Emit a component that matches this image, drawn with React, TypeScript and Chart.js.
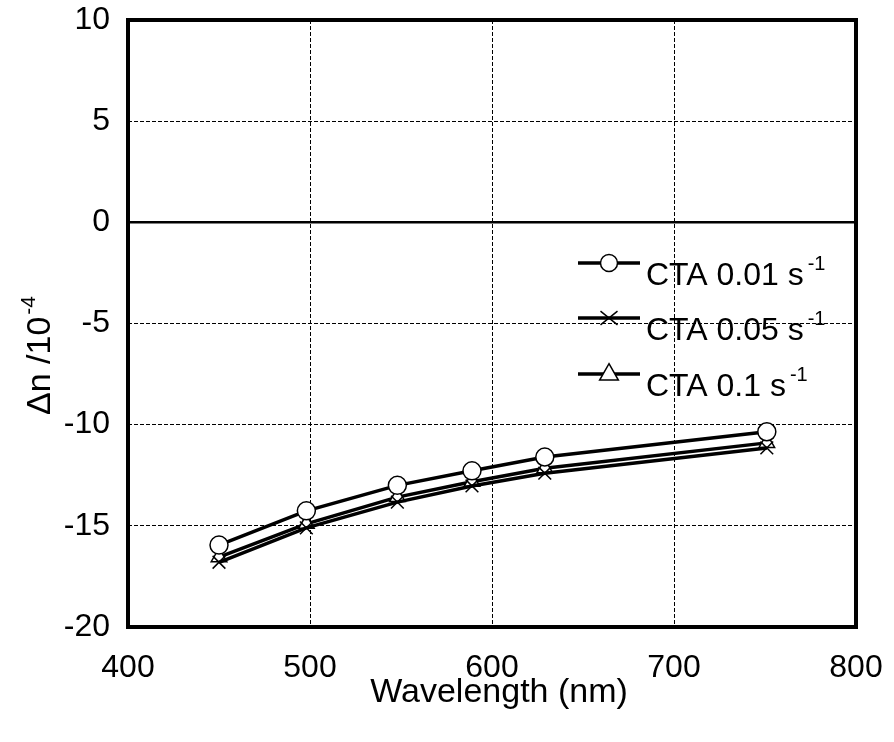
import React, { useEffect, useRef } from "react";
import { Chart, registerables } from "chart.js";

Chart.register(...registerables);

const wavelengths = [450, 498, 548, 589, 629, 751];
const cta001 = [-15.95, -14.26, -13.0, -12.28, -11.6, -10.35];
const cta005 = [-16.8, -15.1, -13.83, -13.03, -12.4, -11.15];
const cta01 = [-16.55, -14.9, -13.58, -12.82, -12.15, -10.9];

const seriesNames = ["CTA 0.01 s", "CTA 0.05 s", "CTA 0.1 s"];
const seriesSup = "-1";
const xTicks = [400, 500, 600, 700, 800];
const yTicks = [-20, -15, -10, -5, 0, 5, 10];

const FONT = "'Liberation Sans', Arial, Helvetica, sans-serif";

function drawMarker(ctx: CanvasRenderingContext2D, style: string, x: number, y: number, r: number) {
  ctx.save();
  ctx.fillStyle = "#fff";
  ctx.strokeStyle = "#000";
  ctx.lineWidth = 1.5;
  ctx.beginPath();
  if (style === "circle") {
    ctx.arc(x, y, r, 0, Math.PI * 2);
    ctx.fill();
    ctx.stroke();
  } else if (style === "triangle") {
    const h = r * 1.1;
    ctx.moveTo(x, y - h * 1.1);
    ctx.lineTo(x + h, y + h * 0.65);
    ctx.lineTo(x - h, y + h * 0.65);
    ctx.closePath();
    ctx.fill();
    ctx.stroke();
  } else {
    const d = r;
    ctx.moveTo(x - d, y - d * 0.8);
    ctx.lineTo(x + d, y + d * 0.8);
    ctx.moveTo(x + d, y - d * 0.8);
    ctx.lineTo(x - d, y + d * 0.8);
    ctx.stroke();
  }
  ctx.restore();
}

const decor = {
  id: "decor",
  beforeDatasetsDraw(chart: any) {
    const { ctx, chartArea: a } = chart;
    const y0 = chart.scales.y.getPixelForValue(0);
    ctx.save();
    ctx.strokeStyle = "#000";
    ctx.lineWidth = 2.5;
    ctx.beginPath();
    ctx.moveTo(a.left, y0);
    ctx.lineTo(a.right, y0);
    ctx.stroke();
    ctx.restore();
  },
  afterDatasetsDraw(chart: any) {
    const { ctx, chartArea: a } = chart;
    ctx.save();
    ctx.strokeStyle = "#000";
    ctx.lineWidth = 4;
    ctx.strokeRect(a.left, a.top, a.right - a.left, a.bottom - a.top);
    ctx.restore();
  },
  afterDraw(chart: any) {
    const { ctx, chartArea: a } = chart;
    ctx.save();
    // Legend
    const styles = ["circle", "crossRot", "triangle"];
    const rowsLine = [263, 318, 374];
    for (let i = 0; i < 3; i++) {
      const ly = rowsLine[i];
      ctx.strokeStyle = "#000";
      ctx.lineWidth = 3.5;
      ctx.beginPath();
      ctx.moveTo(578, ly);
      ctx.lineTo(640, ly);
      ctx.stroke();
      drawMarker(ctx, styles[i], 609, ly, 8.5);
      ctx.fillStyle = "#000";
      ctx.textBaseline = "alphabetic";
      ctx.textAlign = "left";
      ctx.font = `32px ${FONT}`;
      const base = ly + 22;
      ctx.fillText(seriesNames[i], 646, base);
      const w = ctx.measureText(seriesNames[i]).width;
      ctx.font = `20px ${FONT}`;
      ctx.fillText(seriesSup, 646 + w + 4, base - 15);
    }
    // X title
    ctx.font = `34px ${FONT}`;
    ctx.textAlign = "center";
    ctx.textBaseline = "alphabetic";
    ctx.fillText("Wavelength (nm)", 499, 702);
    // Y title
    ctx.translate(50, 415);
    ctx.rotate(-Math.PI / 2);
    ctx.textAlign = "left";
    ctx.font = `34px ${FONT}`;
    const t = "\u0394n /10";
    const tw = ctx.measureText(t).width;
    ctx.fillText(t, 0, 0);
    ctx.font = `21px ${FONT}`;
    ctx.fillText("-4", tw + 2, -15);
    ctx.restore();
  },
};

export default function App() {
  const ref = useRef<HTMLCanvasElement | null>(null);
  useEffect(() => {
    document.body.style.margin = "0";
    if (!ref.current) return;
    const mk = (data: number[], style: string, label: string) => ({
      label,
      data: wavelengths.map((x, i) => ({ x, y: data[i] })),
      borderColor: "#000",
      borderWidth: 3.5,
      backgroundColor: "#fff",
      pointBackgroundColor: "#fff",
      pointBorderColor: "#000",
      pointBorderWidth: 1.5,
      pointStyle: style,
      pointRadius: 9,
      tension: 0,
      fill: false,
    });
    const chart = new Chart(ref.current, {
      type: "line",
      data: {
        datasets: [
          mk(cta001, "circle", seriesNames[0]),
          mk(cta005, "crossRot", seriesNames[1]),
          mk(cta01, "triangle", seriesNames[2]),
        ],
      },
      options: {
        animation: false,
        responsive: false,
        events: [],
        layout: { padding: { top: 20, right: 38, left: 0, bottom: 0 } },
        plugins: { legend: { display: false }, tooltip: { enabled: false } },
        scales: {
          x: {
            type: "linear",
            min: 400,
            max: 800,
            afterBuildTicks: (s: any) => {
              s.ticks = xTicks.map((v) => ({ value: v }));
            },
            afterFit: (s: any) => {
              s.height = 115;
              s.paddingLeft = 0;
              s.paddingRight = 0;
            },
            grid: { color: "#000", lineWidth: 1, drawTicks: false },
            border: { display: false, dash: [4, 2] },
            ticks: {
              color: "#000",
              font: { family: FONT, size: 32 },
              padding: 22,
              maxRotation: 0,
            },
          },
          y: {
            type: "linear",
            min: -20,
            max: 10,
            afterBuildTicks: (s: any) => {
              s.ticks = yTicks.map((v) => ({ value: v }));
            },
            afterFit: (s: any) => {
              s.width = 128;
              s.paddingTop = 0;
              s.paddingBottom = 0;
            },
            grid: { color: "#000", lineWidth: 1, drawTicks: false },
            border: { display: false, dash: [4, 2] },
            ticks: {
              color: "#000",
              font: { family: FONT, size: 32 },
              padding: 18,
            },
          },
        },
      },
      plugins: [decor],
    });
    return () => chart.destroy();
  }, []);
  return (
    <div style={{ width: 894, height: 742, position: "relative" }}>
      <canvas ref={ref} width={894} height={742} style={{ display: "block" }} />
    </div>
  );
}
